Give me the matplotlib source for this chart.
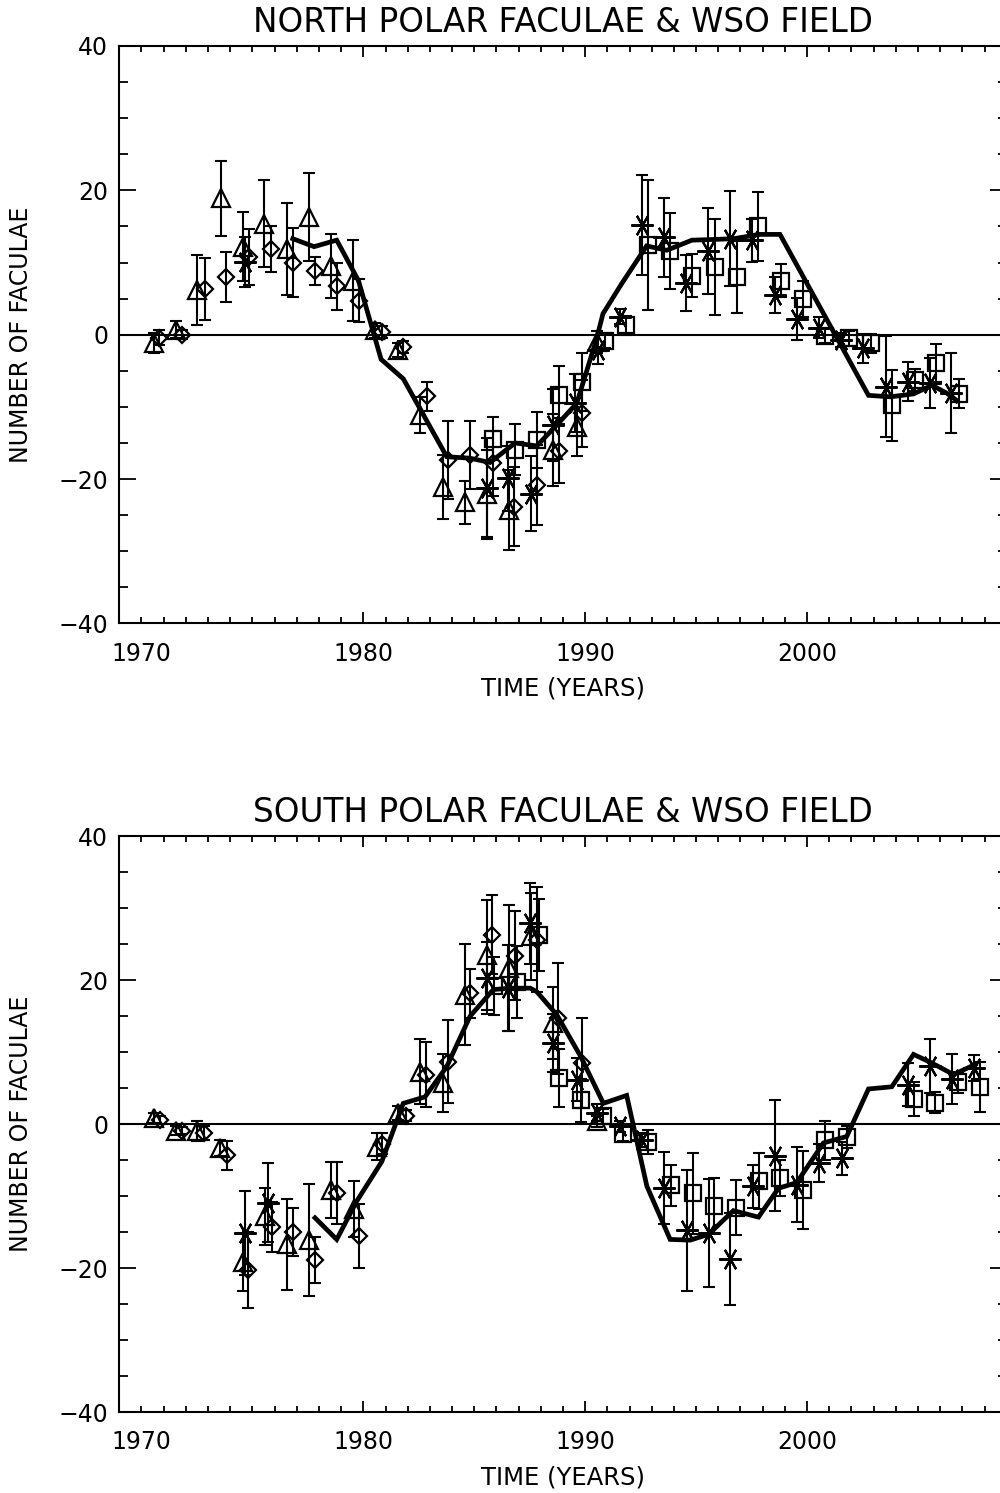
import numpy as np
import matplotlib
matplotlib.use("Agg")
import matplotlib.pyplot as plt
from matplotlib.ticker import MultipleLocator, FixedLocator

plt.rcParams['font.family'] = ['DejaVu Sans']

# ---------------- North panel ----------------
# triangles
n_tri_x = [1970.56, 1971.54, 1972.52, 1973.57, 1974.56, 1975.52, 1976.55, 1977.57, 1978.54, 1979.55,
           1980.53, 1981.58, 1982.56, 1983.57, 1984.58, 1985.56, 1986.57, 1988.57, 1989.62, 1990.52]
n_tri_y = [-1.2, 0.7, 6.2, 18.9, 12.2, 15.4, 11.9, 16.3, 9.5, 7.5,
           0.6, -2.1, -11.1, -21.1, -23.2, -22.0, -24.3, -16.0, -12.8, -1.0]
n_tri_e = [1.4, 1.2, 4.8, 5.2, 4.8, 6.0, 6.4, 6.1, 4.4, 5.6,
           1.0, 1.0, 2.5, 4.4, 3.0, 6.0, 5.5, 5.0, 4.0, 1.5]
# diamonds
n_dia_x = [1970.80, 1971.84, 1972.86, 1973.81, 1974.86, 1975.82, 1976.82, 1977.82, 1978.80, 1979.82,
           1980.83, 1981.80, 1982.86, 1983.83, 1984.81, 1985.83, 1986.81, 1987.82, 1988.83, 1989.87]
n_dia_y = [-0.4, 0.0, 6.3, 8.0, 10.8, 11.9, 10.0, 8.8, 6.7, 4.7,
           0.4, -1.7, -8.5, -17.4, -16.7, -17.8, -23.8, -20.8, -16.1, -10.9]
n_dia_e = [1.0, 0.6, 4.3, 3.4, 3.9, 3.2, 4.8, 1.9, 3.3, 3.0,
           0.8, 0.8, 2.0, 5.4, 4.7, 4.5, 5.5, 5.5, 4.5, 4.6]
# asterisks
n_ast_x = [1974.67, 1985.56, 1986.54, 1987.56, 1988.54, 1989.55, 1990.60, 1991.57, 1992.55, 1993.56,
           1994.54, 1995.55, 1996.53, 1997.54, 1998.56, 1999.57, 2000.56, 2001.54, 2002.54, 2003.57,
           2004.54, 2005.55, 2006.50]
n_ast_y = [10.1, -21.3, -19.9, -22.0, -12.5, -9.5, -2.1, 2.5, 15.2, 13.5,
           7.2, 11.6, 13.3, 13.1, 5.5, 2.2, 1.0, -0.7, -1.9, -7.2,
           -6.5, -6.7, -8.1]
n_ast_e = [3.5, 7.0, 4.5, 5.2, 5.0, 4.0, 2.0, 1.0, 6.9, 5.5,
           3.9, 6.0, 6.6, 3.0, 2.5, 2.9, 1.5, 1.0, 2.0, 7.0,
           2.7, 3.5, 5.5]
# squares
n_sq_x = [1985.86, 1986.84, 1987.82, 1988.83, 1989.85, 1990.90, 1991.84, 1992.82, 1993.83, 1994.83,
          1995.83, 1996.83, 1997.81, 1998.82, 1999.81, 2000.82, 2001.87, 2002.88, 2003.82, 2004.87,
          2005.82, 2006.87]
n_sq_y = [-14.4, -15.9, -14.6, -8.3, -6.5, -0.8, 1.3, 12.4, 11.6, 8.2,
          9.4, 8.0, 15.0, 7.5, 4.9, -0.2, -0.5, -1.2, -9.8, -6.3,
          -3.9, -8.2]
n_sq_e = [3.0, 3.5, 3.9, 4.0, 4.0, 1.0, 1.3, 9.0, 5.2, 3.0,
          6.6, 5.0, 4.8, 2.3, 2.5, 1.0, 1.0, 1.3, 4.9, 1.5,
          2.6, 2.0]
# WSO field (scaled)
n_wso_x = [1976.82, 1977.78, 1978.80, 1979.78, 1980.80, 1981.80, 1982.60, 1983.76, 1984.80, 1985.71,
           1986.84, 1987.82, 1988.72, 1989.62, 1990.52, 1990.80, 1991.65, 1992.77, 1993.68, 1994.81,
           1995.80, 1996.68, 1997.88, 1998.78, 2002.77, 2003.75, 2004.80, 2005.63, 2006.30, 2006.75]
n_wso_y = [13.3, 12.2, 13.1, 7.5, -3.4, -6.1, -10.5, -16.9, -17.1, -17.7,
           -15.0, -15.4, -12.5, -9.5, -0.5, 2.9, 7.1, 12.3, 11.7, 13.1,
           13.2, 13.3, 13.9, 13.9, -8.4, -8.6, -8.2, -7.0, -8.1, -9.1]

# ---------------- South panel ----------------
s_tri_x = [1970.58, 1971.54, 1972.52, 1973.54, 1974.56, 1975.57, 1976.55, 1977.55, 1978.53, 1979.58,
           1980.60, 1981.58, 1982.56, 1983.60, 1984.58, 1985.56, 1986.57, 1987.56, 1988.57, 1990.52]
s_tri_y = [0.9, -0.9, -0.9, -3.3, -19.1, -12.8, -16.7, -16.1, -9.1, -11.8,
           -3.1, 1.6, 7.3, 5.7, 18.0, 23.5, 21.7, 26.1, 14.1, 0.4]
s_tri_e = [0.7, 0.6, 1.4, 1.1, 4.0, 4.0, 6.3, 7.8, 3.9, 3.9,
           1.9, 1.0, 4.5, 4.0, 7.0, 7.6, 8.8, 6.0, 5.0, 0.8]
s_dia_x = [1970.83, 1971.81, 1972.83, 1973.84, 1974.82, 1975.87, 1976.82, 1977.82, 1978.80, 1979.82,
           1980.83, 1981.92, 1982.83, 1983.83, 1984.81, 1985.82, 1986.84, 1987.84, 1988.79, 1989.85]
s_dia_y = [0.6, -0.9, -1.2, -4.3, -20.2, -14.3, -15.0, -18.8, -9.5, -15.5,
           -2.7, 1.2, 6.9, 8.7, 18.2, 26.3, 23.4, 25.6, 14.7, 8.5]
s_dia_e = [0.5, 0.5, 1.0, 2.0, 5.3, 3.5, 3.3, 3.2, 4.3, 4.4,
           1.5, 0.8, 4.5, 5.8, 3.4, 5.5, 6.2, 7.3, 7.7, 6.2]
s_ast_x = [1974.67, 1975.72, 1985.56, 1986.54, 1987.52, 1988.57, 1989.62, 1990.55, 1991.57, 1992.55,
           1993.56, 1994.58, 1995.56, 1996.55, 1997.56, 1998.56, 1999.54, 2000.56, 2001.57, 2004.57,
           2005.55, 2006.55, 2007.53]
s_ast_y = [-15.1, -10.9, 20.3, 18.9, 27.9, 11.3, 6.2, 1.6, -0.3, -2.2,
           -8.9, -14.7, -15.1, -18.7, -8.6, -4.4, -8.4, -5.4, -4.7, 5.5,
           8.1, 6.3, 7.8]
s_ast_e = [5.8, 5.5, 5.0, 6.0, 5.6, 4.0, 3.0, 1.2, 0.8, 1.0,
           5.0, 8.4, 7.5, 6.4, 3.0, 7.7, 5.2, 2.6, 2.3, 3.0,
           3.8, 3.5, 1.8]
s_sq_x = [1985.90, 1986.92, 1987.93, 1988.83, 1989.80, 1990.80, 1991.72, 1992.85, 1993.86, 1994.85,
          1995.82, 1996.79, 1997.84, 1998.78, 1999.81, 2000.82, 2001.82, 2004.80, 2005.78, 2006.80,
          2007.80]
s_sq_y = [19.2, 19.8, 26.3, 6.4, 3.3, 1.1, -1.3, -2.5, -8.5, -9.6,
          -11.3, -11.6, -7.9, -7.5, -9.1, -2.2, -1.8, 3.5, 3.0, 5.8,
          5.2]
s_sq_e = [4.0, 5.0, 5.0, 4.0, 3.0, 1.0, 1.0, 1.7, 2.8, 5.6,
          3.8, 3.8, 3.9, 2.5, 5.4, 2.7, 1.5, 2.4, 1.5, 1.5,
          3.5]
s_wso_x = [1977.82, 1978.80, 1979.70, 1980.83, 1981.80, 1982.78, 1983.76, 1984.81, 1985.86, 1986.61,
           1987.52, 1987.82, 1988.72, 1989.80, 1990.82, 1991.87, 1992.78, 1993.83, 1994.73, 1995.56,
           1996.68, 1997.81, 1998.71, 1999.54, 2000.74, 2001.79, 2002.77, 2003.82, 2004.80, 2005.63,
           2006.60, 2007.58]
s_wso_y = [-13.0, -16.0, -10.7, -5.2, 2.9, 3.8, 8.0, 15.0, 18.7, 18.9,
           18.9, 18.4, 15.2, 9.4, 2.9, 4.0, -8.6, -16.0, -16.1, -15.3,
           -12.0, -12.9, -8.9, -8.1, -2.6, -1.7, 4.9, 5.2, 9.7, 8.5,
           6.9, 8.3]

titles = ["NORTH POLAR FACULAE & WSO FIELD", "SOUTH POLAR FACULAE & WSO FIELD"]
x_labels = [1970, 1980, 1990, 2000]

# IDL-style asterisk (horizontal bar plus two diagonals)
asterisk = (6, 2, 90)


def panel(ax, tri, dia, ast, sq, wso, title):
    ebkw = dict(fmt='none', ecolor='black', elinewidth=1.5, capsize=4.5, capthick=1.5, zorder=2)
    mkw = dict(linestyle='none', color='black', markerfacecolor='none', markeredgewidth=1.6, zorder=3)
    for (x, y, e), m, ms in [(tri, '^', 12.5), (dia, 'D', 8), (ast, asterisk, 16), (sq, 's', 11)]:
        ax.errorbar(x, y, yerr=e, **ebkw)
        ax.plot(x, y, marker=m, markersize=ms, **mkw)
    ax.plot(wso[0], wso[1], color='black', linewidth=3.4, zorder=4, solid_joinstyle='miter')
    ax.axhline(0, color='black', linewidth=1.5, zorder=1)

    ax.set_xlim(1969, 2009)
    ax.set_ylim(-40, 40)
    ax.xaxis.set_major_locator(FixedLocator(x_labels))
    ax.xaxis.set_minor_locator(MultipleLocator(1))
    ax.yaxis.set_major_locator(FixedLocator([-40, -20, 0, 20, 40]))
    ax.yaxis.set_minor_locator(MultipleLocator(5))
    ax.set_xticklabels([str(v) for v in x_labels])
    ax.set_yticklabels(['\u221240', '\u221220', '0', '20', '40'])
    ax.tick_params(which='both', direction='in', top=True, right=True, width=1.3, labelsize=17)
    ax.tick_params(axis='x', which='major', length=8, pad=13)
    ax.tick_params(axis='x', which='minor', length=4.5)
    ax.tick_params(axis='y', which='major', length=12.5, pad=8)
    ax.tick_params(axis='y', which='minor', length=6.5)
    # the 1970 tick is drawn short in the original
    t0 = ax.xaxis.get_major_ticks()[0]
    t0.tick1line.set_markersize(4.5)
    t0.tick2line.set_markersize(4.5)
    for s in ax.spines.values():
        s.set_linewidth(1.5)
    ax.set_title(title, fontsize=23.5, pad=10)
    ax.set_xlabel("TIME (YEARS)", fontsize=17.5)
    ax.set_ylabel("NUMBER OF FACULAE", fontsize=17)
    ax.xaxis.set_label_coords(0.5, -0.092)
    ax.yaxis.set_label_coords(-0.097, 0.5)


fig = plt.figure(figsize=(10, 14.93), dpi=100)
ax1 = fig.add_axes([0.1193, 0.5824, 0.8874, 0.3868])
ax2 = fig.add_axes([0.1193, 0.0541, 0.8874, 0.3858])

panel(ax1, (n_tri_x, n_tri_y, n_tri_e), (n_dia_x, n_dia_y, n_dia_e),
      (n_ast_x, n_ast_y, n_ast_e), (n_sq_x, n_sq_y, n_sq_e), (n_wso_x, n_wso_y), titles[0])
panel(ax2, (s_tri_x, s_tri_y, s_tri_e), (s_dia_x, s_dia_y, s_dia_e),
      (s_ast_x, s_ast_y, s_ast_e), (s_sq_x, s_sq_y, s_sq_e), (s_wso_x, s_wso_y), titles[1])

fig.savefig("out.png", dpi=100)
